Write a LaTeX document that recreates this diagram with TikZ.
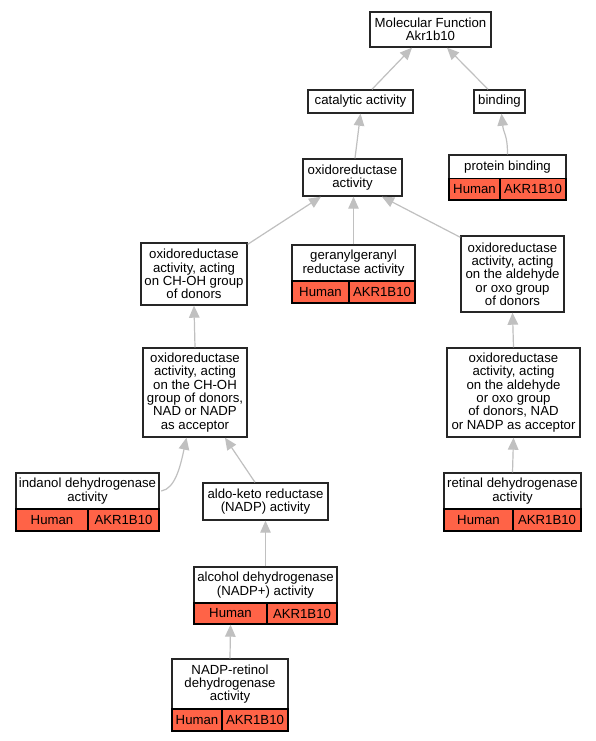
\documentclass[tikz,border=0pt]{standalone}
\usepackage{fontspec}
\setmainfont{Liberation Sans}
\usetikzlibrary{arrows.meta}
\definecolor{hitred}{RGB}{255,99,71}
\definecolor{edgegray}{RGB}{192,192,192}

\begin{document}
\begin{tikzpicture}[x=1pt, y=-1pt,
  term/.style={draw=black!85, line width=1.4pt, fill=white, inner sep=0pt, align=center, font=\fontsize{13.2}{13.3}\selectfont},
  gene/.style={term, fill=hitred, draw=black},
  isa/.style={draw=edgegray, line width=1.2pt, -{Triangle[length=12pt, width=10.5pt]}}]
  \useasboundingbox[fill=white] (0,0) rectangle (596,741);
  % top levels
  \node[term, minimum width=121pt, minimum height=35pt] (mf) at (430.5,29.5) {Molecular Function\\Akr1b10};
  \node[term, minimum width=105pt, minimum height=23pt] (cat) at (360.5,101.5) {catalytic activity};
  \node[term, minimum width=51pt, minimum height=23pt] (bind) at (499.5,101.5) {binding};
  \node[term, minimum width=99pt, minimum height=37pt] (oxred) at (352.5,177.5) {oxidoreductase\\activity};
  \node[term, minimum width=117pt, minimum height=23.5pt] (pbind) at (507.5,166.75) {protein binding};
  \node[gene, minimum width=51pt, minimum height=21.5pt] (pbindsp) at (474.5,189.25) {Human};
  \node[gene, minimum width=66pt, minimum height=21.5pt] (pbindgn) at (533,189.25) {AKR1B10};
  % oxidoreductase children
  \node[term, minimum width=106pt, minimum height=62pt] (chohd) at (194,274) {oxidoreductase\\activity, acting\\on CH-OH group\\of donors};
  \node[term, minimum width=123pt, minimum height=36pt] (ger) at (353.5,263) {geranylgeranyl\\reductase activity};
  \node[gene, minimum width=57pt, minimum height=22pt] (gersp) at (320.5,292) {Human};
  \node[gene, minimum width=66pt, minimum height=22pt] (gergn) at (382,292) {AKR1B10};
  \node[term, minimum width=103pt, minimum height=76pt] (alddon) at (512.5,274) {oxidoreductase\\activity, acting\\on the aldehyde\\or oxo group\\of donors};
  \node[term, minimum width=104pt, minimum height=89pt] (chohnad) at (195,392.5) {oxidoreductase\\activity, acting\\on the CH-OH\\group of donors,\\NAD or NADP\\as acceptor};
  \node[term, minimum width=133pt, minimum height=89pt] (aldnad) at (513.5,392.5) {oxidoreductase\\activity, acting\\on the aldehyde\\or oxo group\\of donors, NAD\\or NADP as acceptor};
  % lower levels
  \node[term, minimum width=137pt, minimum height=36pt] (ret) at (512.5,491) {retinal dehydrogenase\\activity};
  \node[gene, minimum width=69pt, minimum height=22pt] (retsp) at (478.5,520) {Human};
  \node[gene, minimum width=68pt, minimum height=22pt] (retgn) at (547,520) {AKR1B10};
  \node[term, minimum width=143pt, minimum height=36pt] (ind) at (87.5,491) {indanol dehydrogenase\\activity};
  \node[gene, minimum width=72pt, minimum height=22pt] (indsp) at (52,520) {Human};
  \node[gene, minimum width=71pt, minimum height=22pt] (indgn) at (123.5,520) {AKR1B10};
  \node[term, minimum width=125pt, minimum height=37pt] (aldo) at (265.5,501.5) {aldo-keto reductase\\(NADP) activity};
  \node[term, minimum width=143pt, minimum height=36pt] (alc) at (265.5,585) {alcohol dehydrogenase\\(NADP+) activity};
  \node[gene, minimum width=73pt, minimum height=21pt] (alcsp) at (230.5,613.5) {Human};
  \node[gene, minimum width=70pt, minimum height=21pt] (alcgn) at (302,613.5) {AKR1B10};
  \node[term, minimum width=116pt, minimum height=50pt] (nadp) at (230,684) {NADP-retinol\\dehydrogenase\\activity};
  \node[gene, minimum width=50pt, minimum height=22pt] (nadpsp) at (197,720) {Human};
  \node[gene, minimum width=66pt, minimum height=22pt] (nadpgn) at (255,720) {AKR1B10};
  % is-a edges
  \draw[isa] ([xshift=11.5pt]cat.north) -- ([xshift=-18.5pt]mf.south);
  \draw[isa] ([xshift=-11.5pt]bind.north) -- ([xshift=16.5pt]mf.south);
  \draw[isa] (pbind.north) .. controls +(0,-20) and +(2,20) .. ([xshift=2pt]bind.south);
  \draw[isa] ([xshift=2.5pt]oxred.north) -- (cat.south);
  \draw[isa] ([yshift=-2pt]chohd.north east) -- ([xshift=-31.5pt]oxred.south);
  \draw[isa] (ger.north) -- (ger.north |- oxred.south);
  \draw[isa] ([yshift=-2pt]alddon.north west) -- ([xshift=29.5pt]oxred.south);
  \draw[isa] (chohnad.north) -- (chohd.south);
  \draw[isa] (aldnad.north) -- (alddon.south);
  \draw[isa] (ret.north) -- (aldnad.south);
  \draw[isa] ([xshift=1.5pt]ind.east) .. controls +(14,-2) and +(-6,28) .. ([xshift=-8.5pt]chohnad.south);
  \draw[isa] ([xshift=-10.5pt]aldo.north) -- ([xshift=30pt]chohnad.south);
  \draw[isa] (alc.north) -- (aldo.south);
  \draw[isa] (nadp.north) -- (alcsp.south);
\end{tikzpicture}
\end{document}
